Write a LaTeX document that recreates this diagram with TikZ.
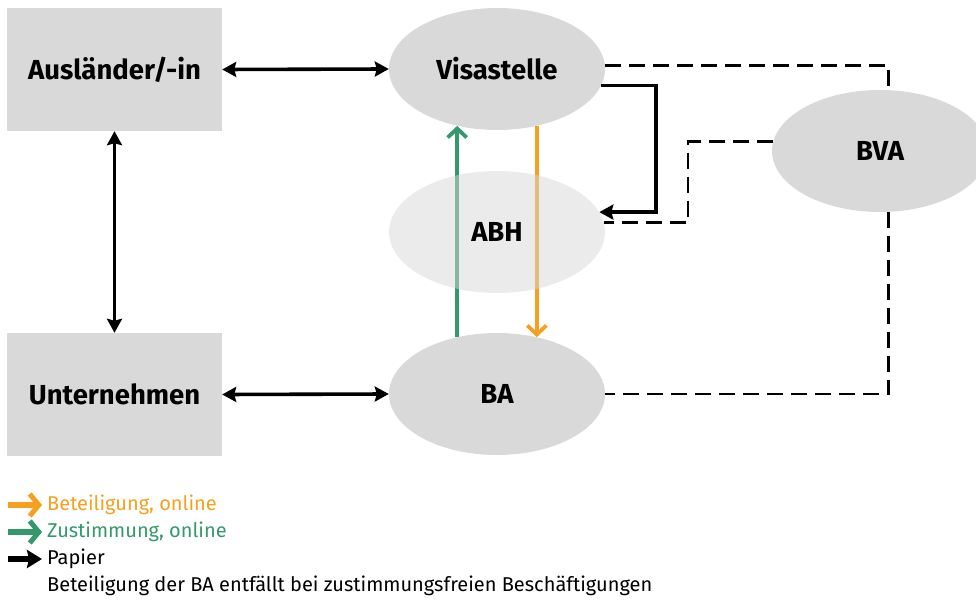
\documentclass[tikz,border=0pt]{standalone}
\usepackage{fontspec}
\setmainfont{Fira Sans}
\usetikzlibrary{shapes.geometric,arrows.meta}
\definecolor{boxgray}{HTML}{D9D9D9}
\definecolor{abhgray}{HTML}{D7D7D7}
\definecolor{orng}{HTML}{F5A01E}
\definecolor{grn}{HTML}{33996B}
\tikzset{
  lbl/.style={font=\fontsize{27.5}{32}\selectfont\bfseries},
  box/.style={rectangle,fill=boxgray,minimum width=215pt,minimum height=123pt,inner sep=0pt,lbl},
  oval/.style={ellipse,fill=boxgray,minimum width=216pt,minimum height=122pt,inner sep=0pt,lbl},
  paper/.style={line width=3.6pt,{Stealth[length=14pt,width=15pt,inset=2pt]}-{Stealth[length=14pt,width=15pt,inset=2pt]}},
  paperone/.style={line width=3.6pt,-{Stealth[length=14pt,width=15pt,inset=2pt]}},
  online/.style={line width=3.8pt,-{Straight Barb[length=9pt,width=19pt,line width=3.8pt]}},
  dashline/.style={line width=2.8pt,dash pattern=on 16pt off 8pt},
  legarrow/.style={line width=6pt,-{Straight Barb[length=9pt,width=22pt,line width=5pt]}},
  legblack/.style={line width=5.5pt,-{Stealth[length=15pt,width=18pt,inset=2pt]}},
  legtext/.style={anchor=west,inner sep=0pt,font=\fontsize{20}{24}\selectfont}
}
\begin{document}
\begin{tikzpicture}[x=1pt,y=-1pt]
\useasboundingbox (0,0) rectangle (976,601);
\node[box] (aus) at (114.5,69.5) {Ausländer/-in};
\node[box] (unt) at (114.5,394.5) {Unternehmen};
\node[oval] (vis) at (497,69) {Visastelle};
\node[oval] (ba) at (497,394) {BA};
\node[oval] (bva) at (880,151) {};
\node[lbl] (bvat) at (880,151) {BVA};
\node[oval,fill=none] (abh) at (497,232) {};
% connectors
\draw[paper] (aus.east) -- (vis.west);
\draw[paper] (unt.east) -- (ba.west);
\draw[paper] (aus.south) -- (unt.north);
\draw[online,grn] (ba.125) -- (vis.235);
\draw[online,orng] (vis.-55) -- (ba.55);
\coordinate (c1) at (656,0);
\coordinate (c3) at (688,0);
\draw[paperone] (vis.-9) -- (vis.-9 -| c1) |- (abh.11);
\draw[dashline] (vis.2) -| (bva.82.5);
\draw[dashline] (bva.175.7) -- (bva.175.7 -| c3) |- (abh.5);
\draw[dashline] (bva.-82.5) |- (ba.east);
% ABH on top, semi transparent
\node[oval,fill=abhgray,fill opacity=0.5,text opacity=1] (abhv) at (497,232) {ABH};
% legend
\coordinate (l1a) at (8,505); \coordinate (l1b) at (42,505);
\coordinate (l2a) at (8,532); \coordinate (l2b) at (42,532);
\coordinate (l3a) at (8,559); \coordinate (l3b) at (42,559);
\draw[legarrow,orng] (l1a) -- (l1b);
\draw[legarrow,grn] (l2a) -- (l2b);
\draw[legblack,black] (l3a) -- (l3b);
\node[legtext,text=orng] (t1) at (47,505) {Beteiligung, online};
\node[legtext,text=grn] (t2) at (47,532) {Zustimmung, online};
\node[legtext] (t3) at (47,559) {Papier};
\node[legtext] (t4) at (47,586) {Beteiligung der BA entfällt bei zustimmungsfreien Beschäftigungen};
\end{tikzpicture}
\end{document}
